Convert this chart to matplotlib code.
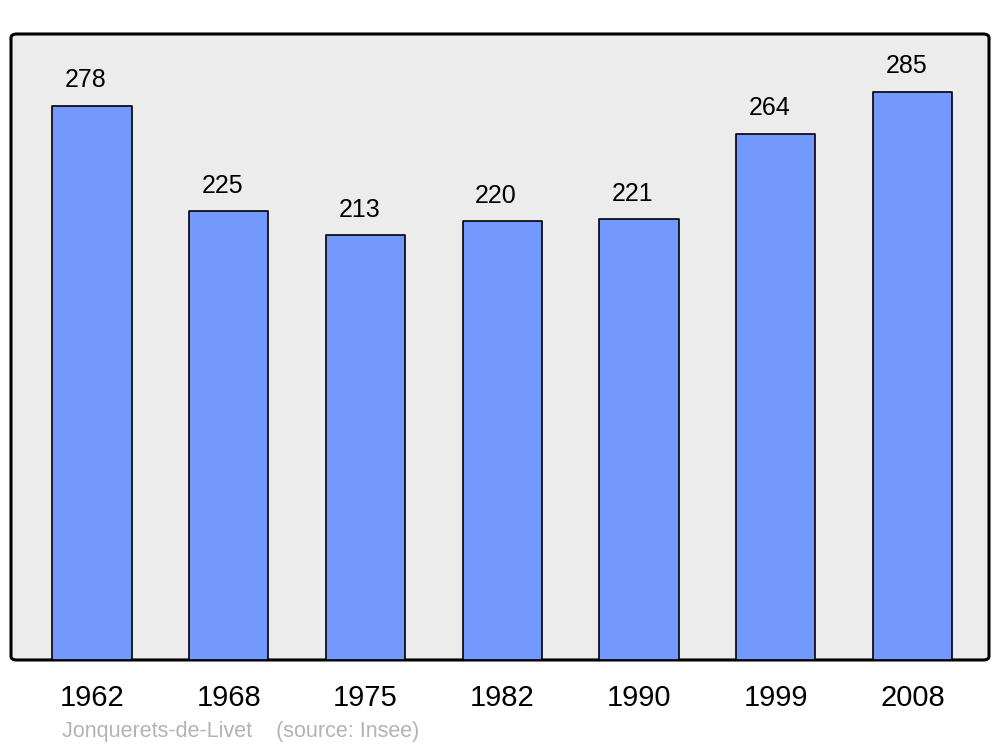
import matplotlib
matplotlib.use("Agg")
import matplotlib.pyplot as plt
from matplotlib.patches import FancyBboxPatch

plt.rcParams['font.family'] = ['Liberation Sans', 'DejaVu Sans']

years = ['1962', '1968', '1975', '1982', '1990', '1999', '2008']
population = [278, 225, 213, 220, 221, 264, 285]
commune = 'Jonquerets-de-Livet'
source = '(source: Insee)'

fig = plt.figure(figsize=(10, 7.47), dpi=100)
ax = fig.add_axes([0.011, 0.1165, 0.978, 0.838])
ax.set_facecolor('none')

# fond gris arrondi avec bordure noire
frame = FancyBboxPatch((0, 0), 1, 1, boxstyle='round,pad=0,rounding_size=0.006',
                       transform=ax.transAxes, facecolor='#ececec',
                       edgecolor='black', linewidth=2.2, zorder=0, clip_on=False)
ax.add_patch(frame)

x = list(range(len(years)))
bars = ax.bar(x, population, width=0.58, color='#7399ff', edgecolor='black',
              linewidth=1.2, zorder=2)
for b in bars:
    b.set_joinstyle('round')

for xi, v in zip(x, population):
    ax.annotate(str(v), (xi, v), xytext=(-4.5, 13.5), textcoords='offset points',
                ha='center', va='baseline', fontsize=18)

ax.set_xlim(-0.592, 6.56)
ax.set_ylim(0, 314)
ax.set_xticks(x)
ax.set_xticklabels(years, fontsize=21)
ax.tick_params(axis='x', length=0, pad=17)
ax.set_yticks([])
for s in ax.spines.values():
    s.set_visible(False)

fig.text(0.062, 0.0134, commune + '    ' + source, color='#b3b3b3',
         fontsize=15.5, va='baseline', ha='left')

fig.savefig('out.png', dpi=100, facecolor='white')
